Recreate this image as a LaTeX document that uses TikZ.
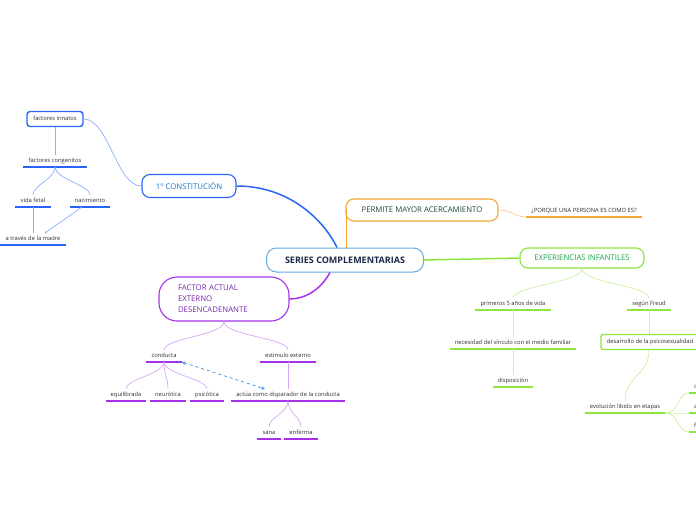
\documentclass[tikz,border=0pt]{standalone}
\usepackage{fontspec}
\setmainfont{Open Sans}
\usetikzlibrary{arrows.meta,positioning}
\definecolor{HubLine}{RGB}{98,170,222}
\definecolor{HubText}{RGB}{28,40,72}
\definecolor{BranchBlue}{RGB}{40,100,245}
\definecolor{TextBlue}{RGB}{26,120,205}
\definecolor{SoftBlue}{RGB}{140,175,250}
\definecolor{BranchOrange}{RGB}{246,165,50}
\definecolor{SoftOrange}{RGB}{250,205,140}
\definecolor{TextTeal}{RGB}{30,72,58}
\definecolor{BranchGreen}{RGB}{140,230,60}
\definecolor{SoftGreen}{RGB}{200,242,160}
\definecolor{TextGreen}{RGB}{30,165,75}
\definecolor{BranchPurple}{RGB}{165,50,232}
\definecolor{SoftPurple}{RGB}{215,165,245}
\definecolor{TextPurple}{RGB}{120,40,170}
\definecolor{LeafText}{RGB}{45,45,45}
\definecolor{DashBlue}{RGB}{60,140,225}
\tikzset{
  hub/.style={draw=HubLine, line width=1pt, fill=white, rounded corners=10pt, minimum width=157pt, minimum height=24pt, font=\fontsize{9}{10}\selectfont\bfseries, text=HubText},
  topic/.style={draw=#1, line width=1.1pt, fill=white, rounded corners=8pt, font=\fontsize{7.8}{9}\selectfont},
  leaf/.style={anchor=south, inner xsep=5pt, inner ysep=3pt, text height=4.2pt, text depth=1.4pt, font=\fontsize{5.8}{6.5}\selectfont, text=LeafText,
    append after command={(\tikzlastnode.south west) edge[draw=#1, line width=1.3pt] (\tikzlastnode.south east)}},
  boxleaf/.style={draw=#1, line width=1.4pt, rounded corners=2pt, fill=white, inner xsep=4pt, text height=4.2pt, text depth=1.4pt, font=\fontsize{5.8}{6.5}\selectfont, text=LeafText},
  twig/.style={draw=#1, line width=0.7pt},
  limb/.style={draw=#1, line width=1.5pt}
}
\begin{document}
\begin{tikzpicture}[x=1pt, y=-1pt]
    \useasboundingbox (0,0) rectangle (696,520);
    \clip (0,0) rectangle (696,520);

    \node[hub] (hub) at (345,260) {SERIES COMPLEMENTARIAS};

    % constitucion
    \node[topic=BranchBlue, text=TextBlue, minimum width=94pt, minimum height=23pt] (constit) at (189,186) {1° CONSTITUCIÓN};
    \node[boxleaf=BranchBlue, minimum width=56pt, minimum height=15pt, rounded corners=3pt] (innatos) at (55,119) {factores innatos};
    \node[leaf=BranchBlue] (congen) at (55,167) {factores congenitos};
    \node[leaf=BranchBlue] (fetal) at (33,207) {vida fetal};
    \node[leaf=BranchBlue] (nacim) at (90,207) {nacimiento};
    \node[leaf=BranchBlue] (madre) at (33,245) {a través de la madre};

    % acercamiento
    \node[topic=BranchOrange, text=TextTeal, minimum width=152pt, minimum height=22pt] (permite) at (422,210) {PERMITE MAYOR ACERCAMIENTO};
    \node[leaf=BranchOrange] (porque) at (584,217) {¿PORQUE UNA PERSONA ES COMO ES?};

    % experiencias
    \node[topic=BranchGreen, text=TextGreen, minimum width=124pt, minimum height=20pt] (experi) at (582,258) {EXPERIENCIAS INFANTILES};
    \node[leaf=BranchGreen] (primeros) at (513,310) {primeros 5 años de vida};
    \node[leaf=BranchGreen] (freud) at (649,310) {según Freud};
    \node[leaf=BranchGreen] (vinculo) at (513,349) {necesidad del vínculo con el medio familiar};
    \node[leaf=BranchGreen] (dispos) at (513,387) {disposición};
    \node[boxleaf=BranchGreen, minimum width=98pt, minimum height=15pt] (psico) at (650,342) {desarrollo de la psicosexualidad};
    \node[leaf=BranchGreen] (libido) at (625,413) {evolución libido en etapas};
    \node[leaf=BranchGreen, anchor=south west] (oral) at (689,393) {oral};
    \node[leaf=BranchGreen, anchor=south west] (anal) at (689,413) {anal};
    \node[leaf=BranchGreen, anchor=south west] (falica) at (689,432) {fálica};

    % factor actual
    \node[topic=BranchPurple, text=TextPurple, rounded corners=18pt, text width=92pt, inner xsep=19pt, minimum height=44pt, align=left, font=\fontsize{7.8}{11}\selectfont] (factor) at (224,299) {FACTOR ACTUAL\\EXTERNO\\DESENCADENANTE};
    \node[leaf=BranchPurple] (conducta) at (164,362) {conducta};
    \node[leaf=BranchPurple] (estimulo) at (288,362) {estimulo externo};
    \node[leaf=BranchPurple] (equil) at (126,401) {equilibrada};
    \node[leaf=BranchPurple] (neuro) at (168,401) {neurótica};
    \node[leaf=BranchPurple] (psicot) at (207,401) {psicótica};
    \node[leaf=BranchPurple] (actua) at (288,401) {actúa como disparador de la conducta};
    \node[leaf=BranchPurple] (sana) at (269,439) {sana};
    \node[leaf=BranchPurple] (enferma) at (301,439) {enferma};

    % blue connectors
    \draw[limb=BranchBlue] ([xshift=-8pt]hub.north) .. controls +(-12,-25) and +(55,0) .. (constit.east);
    \draw[twig=SoftBlue] (constit.west) .. controls +(-25,0) and +(25,0) .. (innatos.east);
    \draw[twig=SoftBlue] (innatos) -- (congen);
    \foreach \n in {fetal,nacim}
      \draw[twig=SoftBlue] (congen.south) .. controls +(0,12) and +(0,-10) .. (\n.north);
    \draw[twig=SoftBlue] (fetal) -- (madre);
    \draw[twig=SoftBlue, -{Circle[length=2pt]}] ([xshift=-8pt]nacim.south) -- ([xshift=12pt]madre.north);

    % orange connectors
    \draw[limb=BranchOrange] ([xshift=1pt]hub.north -| permite.west) -- ([xshift=1pt]permite.west);
    \draw[twig=SoftOrange] (permite.east) .. controls +(14,0) and +(-12,0) .. (porque.south west);

    % green connectors
    \draw[limb=BranchGreen] (hub.east) -- (experi.west);
    \foreach \n in {primeros,freud}
      \draw[twig=SoftGreen] (experi.south) .. controls +(0,14) and +(0,-12) .. (\n.north);
    \draw[twig=SoftGreen] (primeros) -- (vinculo);
    \draw[twig=SoftGreen] (vinculo) -- (dispos);
    \draw[twig=SoftGreen] (freud) -- (freud |- psico.north);
    \draw[twig=SoftGreen] (freud |- psico.south) .. controls +(0,25) and +(0,-25) .. (libido.north);
    \foreach \n in {oral,anal,falica}
      \draw[twig=SoftGreen] (libido.south east) .. controls +(14,0) and +(-12,0) .. (\n.south west);

    % purple connectors
    \draw[limb=BranchPurple] ([xshift=-15pt]hub.south) .. controls +(-10,18) and +(15,0) .. (factor.east);
    \foreach \n in {conducta,estimulo}
      \draw[twig=SoftPurple] (factor.south) .. controls +(0,14) and +(0,-12) .. (\n.north);
    \foreach \n in {equil,neuro,psicot}
      \draw[twig=SoftPurple] (conducta.south) .. controls +(0,12) and +(0,-10) .. (\n.north);
    \draw[twig=SoftPurple] (estimulo) -- (actua);
    \foreach \n in {sana,enferma}
      \draw[twig=SoftPurple] (actua.south) .. controls +(0,12) and +(0,-10) .. (\n.north);
    \draw[DashBlue, dashed, line width=0.7pt, {Stealth[length=4pt,width=3.5pt]}-{Stealth[length=4pt,width=3.5pt]}] (conducta.south east) -- ([xshift=-23pt]actua.north);
  \end{tikzpicture}
\end{document}
